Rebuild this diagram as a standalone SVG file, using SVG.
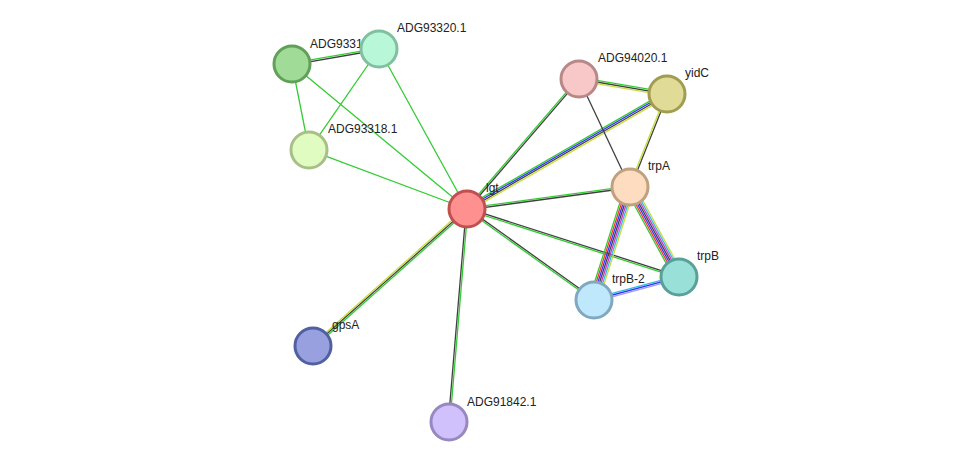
<svg xmlns="http://www.w3.org/2000/svg" width="975" height="469" viewBox="0 0 975 469">
<style>
line{stroke-width:1.3;fill:none}
.g{stroke:#33cc33}.k{stroke:#404040}.b{stroke:#3333ff}.y{stroke:#c8dc3c}.r{stroke:#ff3333}.m{stroke:#cc33cc}.c{stroke:#33bbdd}.l{stroke:#9999ff}
circle{stroke-width:3}
text{font-family:"Liberation Sans",Arial,sans-serif;font-size:12px;fill:#222}
</style>
<rect width="975" height="469" fill="#fff"/>
<g id="edges">
<g transform="translate(467,209) rotate(-118.8)"><line class="g" x2="182.6"/></g>
<g transform="translate(467,209) rotate(-140.4)"><line class="g" x2="227.3"/></g>
<g transform="translate(467,209) rotate(-159.5)"><line class="g" x2="168.7"/></g>
<g transform="translate(467,209) rotate(-49.3)"><line class="g" y1="-0.8" y2="-0.8" x2="171.6"/><line class="k" y1="0.8" y2="0.8" x2="171.6"/></g>
<g transform="translate(467,209) rotate(-29.9)"><line class="g" y1="-2.4" y2="-2.4" x2="230.7"/><line class="b" y1="-0.8" y2="-0.8" x2="230.7"/><line class="k" y1="0.8" y2="0.8" x2="230.7"/><line class="y" y1="2.4" y2="2.4" x2="230.7"/></g>
<g transform="translate(467,209) rotate(-7.7)"><line class="g" y1="-0.8" y2="-0.8" x2="164.5"/><line class="k" y1="0.8" y2="0.8" x2="164.5"/></g>
<g transform="translate(467,209) rotate(17.8)"><line class="k" y1="-0.8" y2="-0.8" x2="222.6"/><line class="g" y1="0.8" y2="0.8" x2="222.6"/></g>
<g transform="translate(467,209) rotate(35.6)"><line class="k" y1="-0.8" y2="-0.8" x2="156.2"/><line class="g" y1="0.8" y2="0.8" x2="156.2"/></g>
<g transform="translate(467,209) rotate(138.3)"><line class="g" y1="-1.6" y2="-1.6" x2="206.1"/><line class="k" y1="0" y2="0" x2="206.1"/><line class="y" y1="1.6" y2="1.6" x2="206.1"/></g>
<g transform="translate(467,209) rotate(94.8)"><line class="g" y1="-0.8" y2="-0.8" x2="213.8"/><line class="k" y1="0.8" y2="0.8" x2="213.8"/></g>
<g transform="translate(292,64) rotate(-9.8)"><line class="g" y1="-0.8" y2="-0.8" x2="88.3"/><line class="k" y1="0.8" y2="0.8" x2="88.3"/></g>
<g transform="translate(292,64) rotate(78.8)"><line class="g" x2="87.7"/></g>
<g transform="translate(379,49) rotate(124.7)"><line class="g" x2="122.9"/></g>
<g transform="translate(579,79) rotate(9.7)"><line class="g" y1="-1.6" y2="-1.6" x2="89.3"/><line class="k" y1="0" y2="0" x2="89.3"/><line class="y" y1="1.6" y2="1.6" x2="89.3"/></g>
<g transform="translate(579,79) rotate(64.7)"><line class="k" x2="119.4"/></g>
<g transform="translate(667,94) rotate(111.7)"><line class="k" y1="-0.8" y2="-0.8" x2="100.1"/><line class="y" y1="0.8" y2="0.8" x2="100.1"/></g>
<g transform="translate(630,187) rotate(107.7)"><line class="y" y1="-4.8" y2="-4.8" x2="118.6"/><line class="c" y1="-3.2" y2="-3.2" x2="118.6"/><line class="m" y1="-1.6" y2="-1.6" x2="118.6"/><line class="k" x2="118.6"/><line class="b" y1="1.6" y2="1.6" x2="118.6"/><line class="r" y1="3.2" y2="3.2" x2="118.6"/><line class="g" y1="4.8" y2="4.8" x2="118.6"/></g>
<g transform="translate(630,187) rotate(61.4)"><line class="y" y1="-4.8" y2="-4.8" x2="102.5"/><line class="c" y1="-3.2" y2="-3.2" x2="102.5"/><line class="m" y1="-1.6" y2="-1.6" x2="102.5"/><line class="k" x2="102.5"/><line class="b" y1="1.6" y2="1.6" x2="102.5"/><line class="r" y1="3.2" y2="3.2" x2="102.5"/><line class="g" y1="4.8" y2="4.8" x2="102.5"/></g>
<g transform="translate(594,300) rotate(-15.1)"><line class="c" y1="-1.6" y2="-1.6" x2="88.1"/><line class="b" y1="0" y2="0" x2="88.1"/><line class="l" y1="1.6" y2="1.6" x2="88.1"/></g>
</g>
<g id="n-adg9331"><circle cx="292" cy="64" r="18" fill="#a0dc98" stroke="#60a058"/><text x="310" y="48">ADG93319.1</text></g>
<g id="n-adg93320"><circle cx="379" cy="49" r="18" fill="#b8f8d8" stroke="#80c0a0"/><text x="397" y="32">ADG93320.1</text></g>
<g id="n-adg93318"><circle cx="309" cy="150" r="18" fill="#e0fcc0" stroke="#a8c088"/><text x="328" y="133">ADG93318.1</text></g>
<g id="n-adg94020"><circle cx="579" cy="79" r="18" fill="#f8c8c8" stroke="#b88888"/><text x="598" y="62">ADG94020.1</text></g>
<g id="n-yidc"><circle cx="667" cy="94" r="18" fill="#e0dc98" stroke="#a09c50"/><text x="685" y="77">yidC</text></g>
<g id="n-trpa"><circle cx="630" cy="187" r="18" fill="#fedcc0" stroke="#c0a080"/><text x="648" y="170">trpA</text></g>
<g id="n-trpb"><circle cx="679" cy="277" r="18" fill="#98e0d8" stroke="#58a098"/><text x="697" y="260">trpB</text></g>
<g id="n-trpb2"><circle cx="594" cy="300" r="18" fill="#c0e8fc" stroke="#80a8c0"/><text x="612" y="283">trpB-2</text></g>
<g id="n-gpsa"><circle cx="313" cy="346" r="18" fill="#98a0e0" stroke="#5060a0"/><text x="332" y="329">gpsA</text></g>
<g id="n-adg91842"><circle cx="449" cy="422" r="18" fill="#d0c0fc" stroke="#9888c0"/><text x="467" y="406">ADG91842.1</text></g>
<g id="n-lgt"><circle cx="467" cy="209" r="18" fill="#ff9090" stroke="#c05050"/><text x="486" y="192">lgt</text></g>
</svg>
